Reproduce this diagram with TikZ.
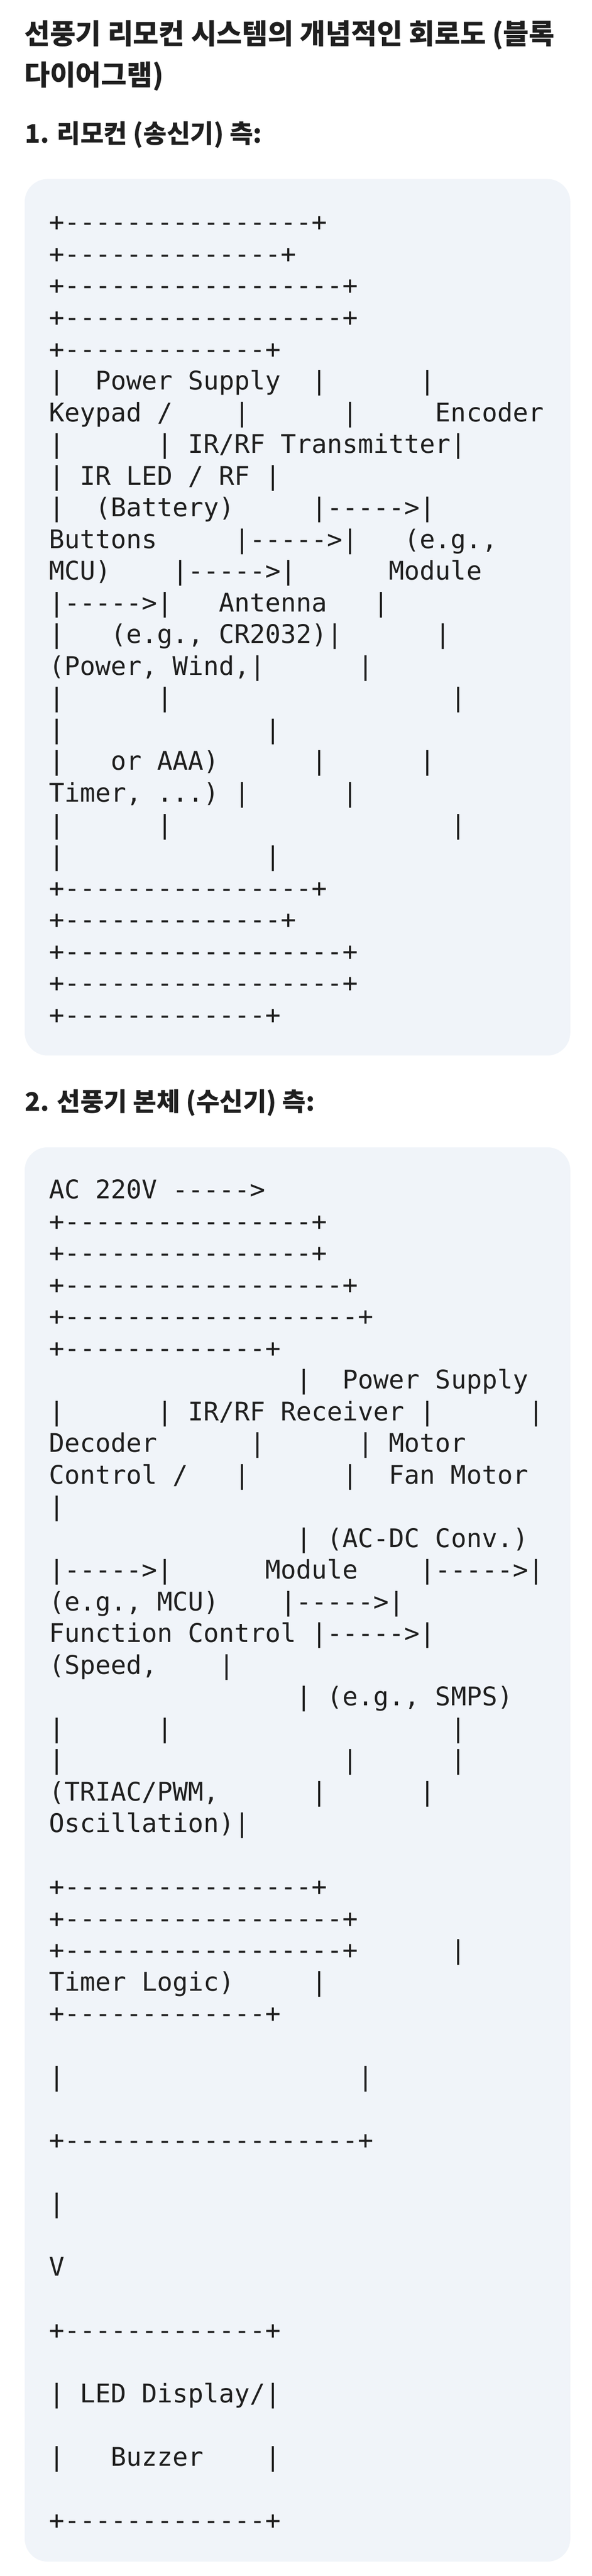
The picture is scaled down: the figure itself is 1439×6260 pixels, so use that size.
\documentclass[tikz,border=0pt]{standalone}
\usepackage{fontspec}
\setmonofont{DejaVu Sans Mono}
\newfontfamily\cjk{Noto Sans CJK KR}
\usepackage{tikz}
\definecolor{ink}{HTML}{1F1F1F}
\definecolor{codebg}{HTML}{F0F4F9}
\newcommand{\boxline}[1]{+\foreach \dashno in {1,...,#1}{-}+}

\begin{document}
\begin{tikzpicture}[x=1pt, y=-1pt]
  \tikzstyle{code}=[anchor=base west, inner sep=0pt, text=ink,
                    font=\ttfamily\fontsize{62.45}{77}\selectfont]
  \tikzstyle{title}=[anchor=base west, inner sep=0pt, text=ink,
                    font=\cjk\bfseries\fontsize{67.8}{100}\selectfont]
  \tikzstyle{heading}=[anchor=base west, inner sep=0pt, text=ink,
                    font=\cjk\bfseries\fontsize{62}{100}\selectfont]
  \tikzstyle{panel}=[fill=codebg, rounded corners=56pt]
\fill[white] (0,0) rectangle (1439,6260);
\path[use as bounding box] (0,0) rectangle (1439,6260);
\node[title] (title1) at (59,107) {선풍기 리모컨 시스템의 개념적인 회로도 (블록};
\node[title] (title2) at (59,207) {다이어그램)};
\node[heading] (head1) at (60,347) {1. 리모컨 (송신기) 측:};
\node[heading] (head2) at (60,2700) {2. 선풍기 본체 (수신기) 측:};
\fill[panel] (60,435) rectangle (1387,2565);
\fill[panel] (60,2788) rectangle (1387,6225);
\begin{scope}[shift={(119,562)}, x=37.6pt, y=-77.04pt]
\node[code] (r0) at (0,0) {\boxline{16}};
\node[code] (r1) at (0,1) {\boxline{14}};
\node[code] (r2) at (0,2) {\boxline{18}};
\node[code] (r3) at (0,3) {\boxline{18}};
\node[code] (r4) at (0,4) {\boxline{13}};
\node[code] (r5) at (0,5) {|~~Power~Supply~~|~~~~~~|};
\node[code] (r6) at (0,6) {Keypad~/~~~~|~~~~~~|~~~~~Encoder};
\node[code] (r7) at (0,7) {|~~~~~~|~IR/RF~Transmitter|};
\node[code] (r8) at (0,8) {|~IR~LED~/~RF~|};
\node[code] (r9) at (0,9) {|~~(Battery)~~~~~|----->|};
\node[code] (r10) at (0,10) {Buttons~~~~~|----->|~~~(e.g.,};
\node[code] (r11) at (0,11) {MCU)~~~~|----->|~~~~~~Module};
\node[code] (r12) at (0,12) {|----->|~~~Antenna~~~|};
\node[code] (r13) at (0,13) {|~~~(e.g.,~CR2032)|~~~~~~|};
\node[code] (r14) at (0,14) {(Power,~Wind,|~~~~~~|};
\node[code] (r15) at (0,15) {|~~~~~~|~~~~~~~~~~~~~~~~~~|};
\node[code] (r16) at (0,16) {|~~~~~~~~~~~~~|};
\node[code] (r17) at (0,17) {|~~~or~AAA)~~~~~~|~~~~~~|};
\node[code] (r18) at (0,18) {Timer,~...)~|~~~~~~|};
\node[code] (r19) at (0,19) {|~~~~~~|~~~~~~~~~~~~~~~~~~|};
\node[code] (r20) at (0,20) {|~~~~~~~~~~~~~|};
\node[code] (r21) at (0,21) {\boxline{16}};
\node[code] (r22) at (0,22) {\boxline{14}};
\node[code] (r23) at (0,23) {\boxline{18}};
\node[code] (r24) at (0,24) {\boxline{18}};
\node[code] (r25) at (0,25) {\boxline{13}};
\end{scope}
\begin{scope}[shift={(119,2913)}, x=37.6pt, y=-77pt]
\node[code] (f0) at (0,0) {AC~220V~----->};
\node[code] (f1) at (0,1) {\boxline{16}};
\node[code] (f2) at (0,2) {\boxline{16}};
\node[code] (f3) at (0,3) {\boxline{18}};
\node[code] (f4) at (0,4) {\boxline{19}};
\node[code] (f5) at (0,5) {\boxline{13}};
\node[code] (f6) at (16,6) {|~~Power~Supply};
\node[code] (f7) at (0,7) {|~~~~~~|~IR/RF~Receiver~|~~~~~~|};
\node[code] (f8) at (0,8) {Decoder~~~~~~|~~~~~~|~Motor};
\node[code] (f9) at (0,9) {Control~/~~~|~~~~~~|~~Fan~Motor};
\node[code] (f10) at (0,10) {|};
\node[code] (f11) at (16,11) {|~(AC-DC~Conv.)};
\node[code] (f12) at (0,12) {|----->|~~~~~~Module~~~~|----->|};
\node[code] (f13) at (0,13) {(e.g.,~MCU)~~~~|----->|};
\node[code] (f14) at (0,14) {Function~Control~|----->|};
\node[code] (f15) at (0,15) {(Speed,~~~~|};
\node[code] (f16) at (16,16) {|~(e.g.,~SMPS)};
\node[code] (f17) at (0,17) {|~~~~~~|~~~~~~~~~~~~~~~~~~|};
\node[code] (f18) at (0,18) {|~~~~~~~~~~~~~~~~~~|~~~~~~|};
\node[code] (f19) at (0,19) {(TRIAC/PWM,~~~~~~|~~~~~~|};
\node[code] (f20) at (0,20) {Oscillation)|};
\node[code] (f22) at (0,22) {\boxline{16}};
\node[code] (f23) at (0,23) {\boxline{18}};
\node[code] (f24) at (0,24) {\boxline{18}~~~~~~|};
\node[code] (f25) at (0,25) {Timer~Logic)~~~~~|};
\node[code] (f26) at (0,26) {\boxline{13}};
\node[code] (f28) at (0,28) {|~~~~~~~~~~~~~~~~~~~|};
\node[code] (f30) at (0,30) {\boxline{19}};
\node[code] (f32) at (0,32) {|};
\node[code] (f34) at (0,34) {V};
\node[code] (f36) at (0,36) {\boxline{13}};
\node[code] (f38) at (0,38) {|~LED~Display/|};
\node[code] (f40) at (0,40) {|~~~Buzzer~~~~|};
\node[code] (f42) at (0,42) {\boxline{13}};
\end{scope}
\end{tikzpicture}
\end{document}
